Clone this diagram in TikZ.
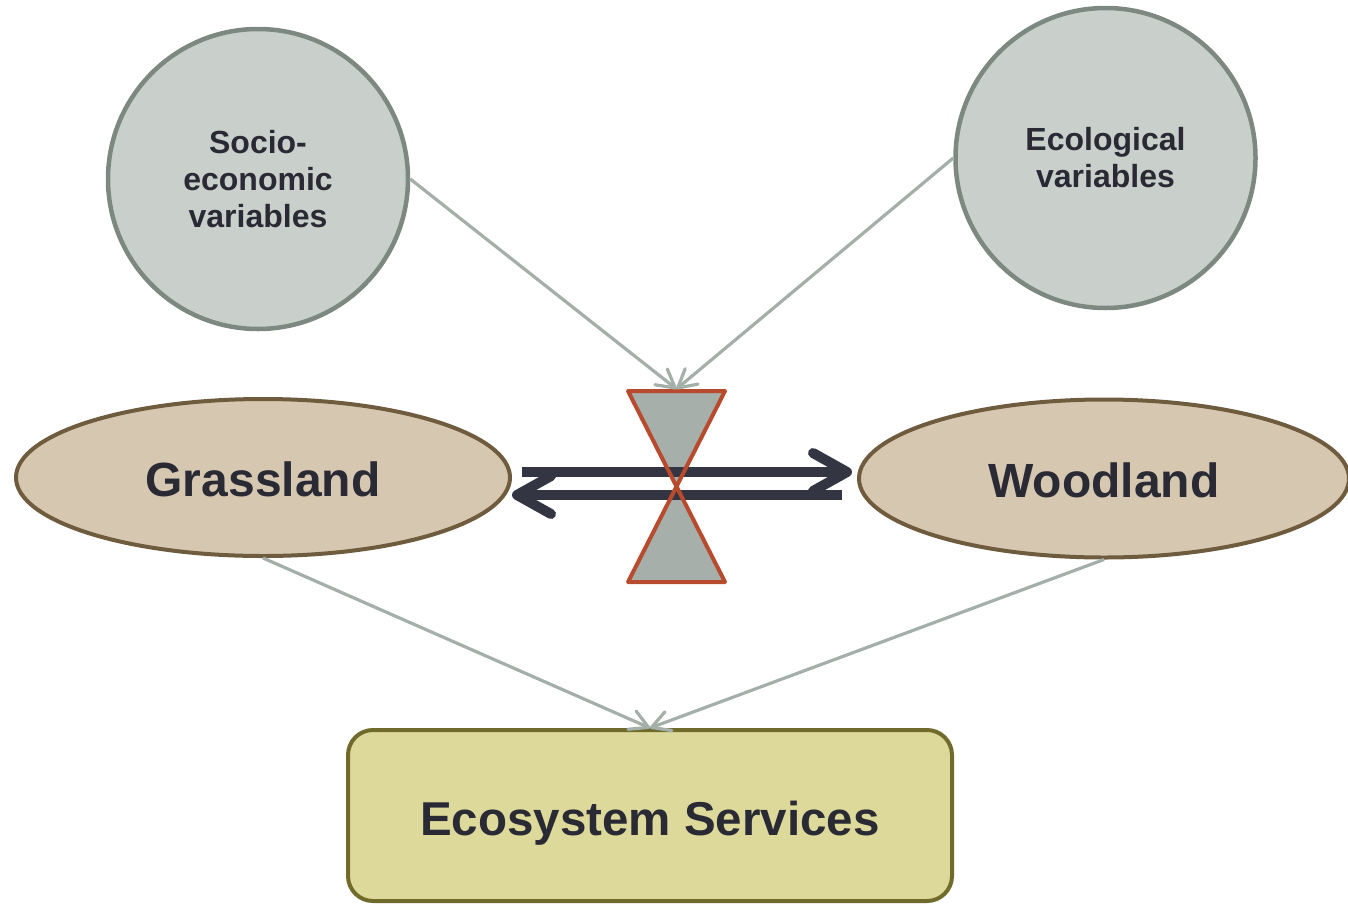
\documentclass[tikz,border=0pt]{standalone}
\usepackage{fontspec}
\setmainfont{Liberation Sans}
\usetikzlibrary{shapes.geometric,arrows.meta,calc}
\definecolor{circfill}{HTML}{C9D0CB}
\definecolor{circline}{HTML}{7C8880}
\definecolor{ellfill}{HTML}{D6C7B1}
\definecolor{ellline}{HTML}{6F5B3E}
\definecolor{boxfill}{HTML}{DCD99B}
\definecolor{boxline}{HTML}{706A2B}
\definecolor{hgfill}{HTML}{A6AFA9}
\definecolor{hgline}{HTML}{B84A2E}
\definecolor{darkarrow}{HTML}{333543}
\definecolor{conn}{HTML}{A5AFA9}
\definecolor{txt}{HTML}{2A2A35}
\tikzset{
  varcircle/.style={circle, draw=circline, fill=circfill, line width=4.5pt, minimum size=300pt, inner sep=0pt, align=center, text=txt, font=\bfseries\fontsize{32}{37}\selectfont},
  landell/.style={ellipse, draw=ellline, fill=ellfill, line width=4pt, inner sep=0pt, text=txt, text height=37pt, text depth=0pt, font=\bfseries\fontsize{48}{56}\selectfont},
  esbox/.style={rectangle, rounded corners=25pt, draw=boxline, fill=boxfill, line width=4pt, minimum width=604pt, minimum height=171pt, inner sep=0pt, text=txt, text height=49pt, text depth=10pt, font=\bfseries\fontsize{47.5}{56}\selectfont},
  connector/.style={draw=conn, line width=3.2pt, -{Straight Barb[length=18pt, width=20pt, round]}},
  bigarrow/.style={draw=darkarrow, line width=10pt, -{Straight Barb[length=34pt, width=38pt, round]}}
}
\begin{document}
\begin{tikzpicture}[x=1pt,y=-1pt]
\useasboundingbox (0,0) rectangle (1348,905);
\node[varcircle] (se) at (258,179) {Socio-\\economic\\variables};
\node[varcircle] (eco) at (1105.5,158) {Ecological\\variables};
\node[landell, minimum width=494pt, minimum height=157pt] (G) at (263,477.5) {Grassland};
\node[landell, minimum width=490pt, minimum height=158pt] (W) at (1104,478.5) {Woodland};
\node[esbox] (ES) at (650,815.5) {Ecosystem Services};
% hourglass
\coordinate (h1) at (628,391);
\coordinate (h2) at (725,391);
\coordinate (h3) at (628,582);
\coordinate (h4) at (725,582);
\coordinate (hgtop) at (676.5,389);
\fill[hgfill] (h1) -- (h2) -- (h3) -- (h4) -- cycle;
% big arrows
\coordinate (a1s) at ($(G.east)+(10,-5.5)$);
\coordinate (a1e) at ($(W.west)+(-5,-6.5)$);
\coordinate (a2s) at ($(W.west)+(-15,16.5)$);
\coordinate (a2e) at ($(G.east)+(0,17.5)$);
\draw[bigarrow] (a1s) -- (a1e);
\draw[bigarrow] (a2s) -- (a2e);
\draw[hgline, line width=4pt, line join=round] (h1) -- (h2) -- (h3) -- (h4) -- cycle;
% connectors
\draw[connector] (se.east) -- (hgtop);
\draw[connector] (eco.west) -- (hgtop);
\draw[connector] (G.south) -- (ES.north);
\draw[connector] (W.south) -- (ES.north);
\end{tikzpicture}
\end{document}
